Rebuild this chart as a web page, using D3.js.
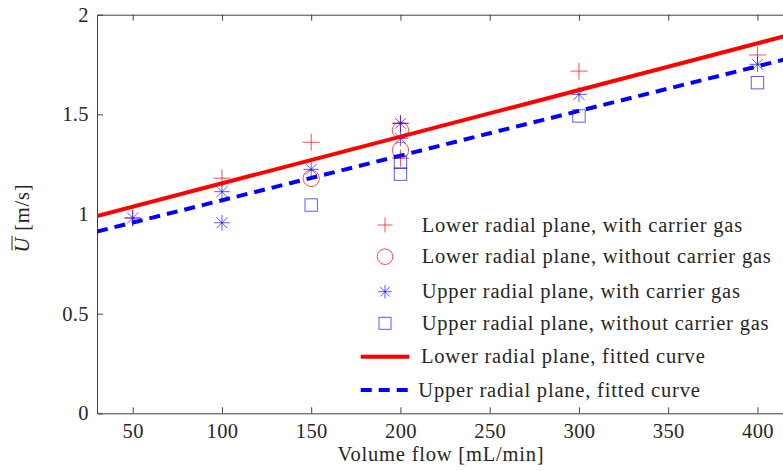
<!DOCTYPE html>
<html>
<head>
<meta charset="utf-8">
<script src="https://cdn.jsdelivr.net/npm/d3@7"></script>
<style>
	body { margin: 0; background: #fff; }
	svg { display: block; }
</style>
</head>
<body>
<svg id="chart" width="783" height="471"></svg>
<script>
// data
const xTicks = [50, 100, 150, 200, 250, 300, 350, 400];
const yTicks = [0, 0.5, 1, 1.5, 2];

const flowLowerWith = [50, 100, 150, 200, 200, 300, 400];
const lowerWith = [0.98, 1.18, 1.36, 1.455, 1.28, 1.717, 1.798];

const flowLowerWithout = [150, 200, 200];
const lowerWithout = [1.179, 1.42, 1.32];

const flowUpperWith = [50, 100, 100, 150, 200, 200, 300, 400];
const upperWith = [0.98, 1.112, 0.956, 1.224, 1.455, 1.38, 1.60, 1.751];

const flowUpperWithout = [150, 200, 200, 300, 400];
const upperWithout = [1.045, 1.26, 1.20, 1.492, 1.659];

const fitFlow = [30, 420];
const lowerFit = [0.99, 1.903];
const upperFit = [0.912, 1.786];

const legendLabels = [
	'Lower radial plane, with carrier gas',
	'Lower radial plane, without carrier gas',
	'Upper radial plane, with carrier gas',
	'Upper radial plane, without carrier gas',
	'Lower radial plane, fitted curve',
	'Upper radial plane, fitted curve'
];

const FONT = '"Liberation Serif", "DejaVu Serif", serif';
const TEXT_SIZE = 20.5;
const TEXT_SPACING = 0.8;
const RED = '#ff0000';
const BLUE = '#0000ff';
const MRED = 'rgba(255,0,0,0.7)';
const MBLUE = 'rgba(0,0,255,0.65)';
const AXIS = '#404040';

const svg = d3.select('#chart');
const plotLeft = 97, plotTop = 14.7, plotBottom = 413.3;

const xScale = d3.scaleLinear().domain([30, 420]).range([plotLeft, plotLeft + 390 * 1.785]);
const yScale = d3.scaleLinear().domain([0, 2]).range([plotBottom, plotTop]);

svg.append('defs').append('clipPath').attr('id', 'plotClip')
	.append('rect')
	.attr('x', plotLeft).attr('y', plotTop)
	.attr('width', 783 - plotLeft).attr('height', plotBottom - plotTop);

// axes
const styleAxis = (g) => {
	g.attr('font-family', FONT).attr('font-size', 20.5);
	g.selectAll('.domain').attr('stroke', AXIS);
	g.selectAll('.tick line').attr('stroke', AXIS);
	g.selectAll('.tick text').attr('fill', '#262626').attr('letter-spacing', 0.4);
};

svg.append('g')
	.attr('transform', `translate(0,${plotBottom})`)
	.call(d3.axisBottom(xScale).tickValues(xTicks).tickSizeInner(-6).tickSizeOuter(0).tickPadding(10))
	.call(styleAxis);

svg.append('g')
	.attr('transform', `translate(0,${plotTop})`)
	.call(d3.axisTop(xScale).tickValues(xTicks).tickSizeInner(-6).tickSizeOuter(0).tickFormat(''))
	.call(styleAxis);

svg.append('g')
	.attr('transform', `translate(${plotLeft},0)`)
	.call(d3.axisLeft(yScale).tickValues(yTicks).tickSizeInner(-6).tickSizeOuter(0).tickPadding(8).tickFormat(d3.format('')))
	.call(styleAxis);

// axis titles
svg.append('text')
	.attr('x', 441).attr('y', 461)
	.attr('text-anchor', 'middle')
	.attr('font-family', FONT).attr('font-size', TEXT_SIZE)
	.attr('letter-spacing', TEXT_SPACING)
	.attr('fill', '#262626')
	.text('Volume flow [mL/min]');

const yTitle = svg.append('g').attr('transform', 'translate(29,218) rotate(-90)');
const yText = yTitle.append('text')
	.attr('text-anchor', 'middle')
	.attr('font-family', FONT).attr('font-size', TEXT_SIZE)
	.attr('letter-spacing', TEXT_SPACING)
	.attr('fill', '#262626');
yText.append('tspan').attr('font-style', 'italic').text('U');
yText.append('tspan').text(' [m/s]');
{
	const node = yText.node();
	const total = node.getComputedTextLength();
	const uw = node.getSubStringLength(0, 1);
	yTitle.append('line')
		.attr('x1', -total / 2 + 2).attr('x2', -total / 2 + uw + 1)
		.attr('y1', -17).attr('y2', -17)
		.attr('stroke', '#262626').attr('stroke-width', 1);
}

// marker shapes
const plusPath = (s) => `M${-s},0H${s}M0,${-s}V${s}`;
const starPath = (s) => {
	const d = s * 0.7071;
	return `M${-s},0H${s}M0,${-s}V${s}M${-d},${-d}L${d},${d}M${-d},${d}L${d},${-d}`;
};

const plot = svg.append('g').attr('clip-path', 'url(#plotClip)');

const drawPoints = (xs, ys, kind, color) => {
	const pts = xs.map((x, i) => ({ x, y: ys[i] }));
	const g = plot.append('g');
	const sel = g.selectAll('.m').data(pts).enter();
	if (kind === 'circle') {
		sel.append('circle')
			.attr('cx', d => xScale(d.x)).attr('cy', d => yScale(d.y)).attr('r', 8.2)
			.attr('fill', 'none').attr('stroke', color).attr('stroke-width', 1);
	} else if (kind === 'square') {
		sel.append('rect')
			.attr('x', d => xScale(d.x) - 6.2).attr('y', d => yScale(d.y) - 6.2)
			.attr('width', 12.4).attr('height', 12.4)
			.attr('fill', 'none').attr('stroke', color).attr('stroke-width', 1);
	} else {
		sel.append('path')
			.attr('transform', d => `translate(${xScale(d.x)},${yScale(d.y)})`)
			.attr('d', kind === 'plus' ? plusPath(8.5) : starPath(7.8))
			.attr('fill', 'none').attr('stroke', color).attr('stroke-width', 1);
	}
};

drawPoints(flowLowerWith, lowerWith, 'plus', MRED);
drawPoints(flowLowerWithout, lowerWithout, 'circle', MRED);
drawPoints(flowUpperWith, upperWith, 'star', MBLUE);
drawPoints(flowUpperWithout, upperWithout, 'square', MBLUE);

// fitted lines
const fitLine = d3.line().x(d => xScale(d[0])).y(d => yScale(d[1]));

plot.append('path')
	.datum(fitFlow.map((x, i) => [x, lowerFit[i]]))
	.attr('d', fitLine)
	.attr('fill', 'none').attr('stroke', RED).attr('stroke-width', 4);

plot.append('path')
	.datum(fitFlow.map((x, i) => [x, upperFit[i]]))
	.attr('d', fitLine)
	.attr('fill', 'none').attr('stroke', BLUE).attr('stroke-width', 4)
	.attr('stroke-dasharray', '11,7');

// legend
const legendRows = [
	{ y: 225, text: 421.7, kind: 'plus', color: MRED },
	{ y: 256.7, text: 421.7, kind: 'circle', color: MRED },
	{ y: 291.7, text: 421.7, kind: 'star', color: MBLUE },
	{ y: 323.3, text: 421.7, kind: 'square', color: MBLUE },
	{ y: 356.7, text: 421, kind: 'solid', color: RED },
	{ y: 390, text: 418.3, kind: 'dash', color: BLUE }
];

const legend = svg.append('g');
legendRows.forEach((row, i) => {
	const cx = 385;
	if (row.kind === 'plus' || row.kind === 'star') {
		legend.append('path')
			.attr('transform', `translate(${cx},${row.y})`)
			.attr('d', row.kind === 'plus' ? plusPath(7.5) : starPath(6.8))
			.attr('fill', 'none').attr('stroke', row.color);
	} else if (row.kind === 'circle') {
		legend.append('circle')
			.attr('cx', cx).attr('cy', row.y).attr('r', 7.8)
			.attr('fill', 'none').attr('stroke', row.color);
	} else if (row.kind === 'square') {
		legend.append('rect')
			.attr('x', cx - 6).attr('y', row.y - 6).attr('width', 12).attr('height', 12)
			.attr('fill', 'none').attr('stroke', row.color);
	} else {
		legend.append('line')
			.attr('x1', 360.7).attr('x2', 409.3).attr('y1', row.y).attr('y2', row.y)
			.attr('stroke', row.color).attr('stroke-width', 4)
			.attr('stroke-dasharray', row.kind === 'dash' ? '11,7' : null);
	}
	legend.append('text')
		.attr('x', row.text).attr('y', row.y + 6.5)
		.attr('font-family', FONT).attr('font-size', TEXT_SIZE)
		.attr('letter-spacing', TEXT_SPACING)
		.attr('fill', '#262626')
		.text(legendLabels[i]);
});
</script>
</body>
</html>
